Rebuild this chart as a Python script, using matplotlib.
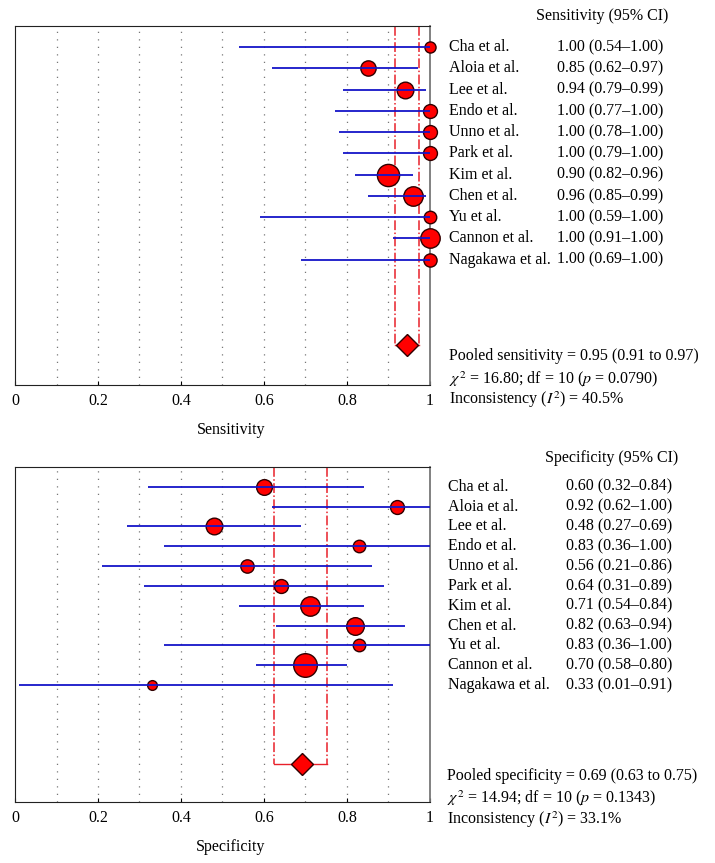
import matplotlib
matplotlib.use("Agg")
import matplotlib.pyplot as plt

plt.rcParams["font.family"] = ["Liberation Serif", "DejaVu Serif"]
plt.rcParams["mathtext.fontset"] = "stix"
plt.rcParams["font.size"] = 11

studies = ["Cha et al.", "Aloia et al.", "Lee et al.", "Endo et al.", "Unno et al.",
           "Park et al.", "Kim et al.", "Chen et al.", "Yu et al.", "Cannon et al.",
           "Nagakawa et al."]

sens = [1.00, 0.85, 0.94, 1.00, 1.00, 1.00, 0.90, 0.96, 1.00, 1.00, 1.00]
sens_lo = [0.54, 0.62, 0.79, 0.77, 0.78, 0.79, 0.82, 0.85, 0.59, 0.91, 0.69]
sens_hi = [1.00, 0.97, 0.99, 1.00, 1.00, 1.00, 0.96, 0.99, 1.00, 1.00, 1.00]
sens_weight = [8, 11, 12, 10, 10, 10, 16, 14, 9, 14, 9.5]
sens_pooled = 0.945
sens_pooled_ci = (0.916, 0.973)
sens_stats = ["Pooled sensitivity = 0.95 (0.91 to 0.97)",
              r"$\chi^2$ = 16.80; df = 10 ($p$ = 0.0790)",
              r"Inconsistency ($I^2$) = 40.5%"]

spec = [0.60, 0.92, 0.48, 0.83, 0.56, 0.64, 0.71, 0.82, 0.83, 0.70, 0.33]
spec_lo = [0.32, 0.62, 0.27, 0.36, 0.21, 0.31, 0.54, 0.63, 0.36, 0.58, 0.01]
spec_hi = [0.84, 1.00, 0.69, 1.00, 0.86, 0.89, 0.84, 0.94, 1.00, 0.80, 0.91]
spec_weight = [11.3, 10, 12, 9, 9.6, 10, 14, 12.7, 9, 17, 7]
spec_pooled = 0.691
spec_pooled_ci = (0.625, 0.751)
spec_stats = ["Pooled specificity = 0.69 (0.63 to 0.75)",
              r"$\chi^2$ = 14.94; df = 10 ($p$ = 0.1343)",
              r"Inconsistency ($I^2$) = 33.1%"]

xticks = [0, 0.2, 0.4, 0.6, 0.8, 1.0]
xticklabels = ["0", "0.2", "0.4", "0.6", "0.8", "1"]


def forest(ax, est, lo, hi, weight, pooled, pooled_ci, header, stats, xlabel,
           name_x, val_x, head_x, stat_x, stat_y):
    rows = list(range(1, len(est) + 1))
    diamond_y = 15

    for g in [0.1, 0.2, 0.3, 0.4, 0.5, 0.6, 0.7, 0.8, 0.9]:
        ax.axvline(g, color="#777777", linestyle=(0, (1, 5)), linewidth=0.9, zorder=1)

    # pooled CI bounds
    for b in pooled_ci:
        ax.plot([b, b], [0, diamond_y], color="#e8202a", linestyle="-.",
                linewidth=1.1, zorder=2)
    ax.plot(list(pooled_ci), [diamond_y, diamond_y], color="#e8202a",
            linewidth=1.0, zorder=2)

    for r, e, w in zip(rows, est, weight):
        ax.plot(e, r, "o", markersize=w, markerfacecolor="#ff0000",
                markeredgecolor="#300000", markeredgewidth=1.0, zorder=3,
                clip_on=False)
    ax.hlines(rows, lo, hi, color="#1515c8", linewidth=1.3, zorder=4, clip_on=False)

    ax.plot(pooled, diamond_y, "D", markersize=11, markerfacecolor="#ff0000",
            markeredgecolor="#300000", markeredgewidth=1.0, zorder=5)

    ax.set_xlim(0, 1)
    ax.set_ylim(16.9, 0)
    ax.set_yticks([])
    ax.set_xticks(xticks)
    ax.set_xticklabels(xticklabels, fontsize=11.5)
    ax.tick_params(axis="x", direction="in", length=3, pad=6)
    for s in ["left", "bottom", "top"]:
        ax.spines[s].set_color("#222222")
    ax.spines["right"].set_color("#777777")
    ax.spines["right"].set_linewidth(1.3)
    ax.set_xlabel(xlabel, fontsize=11.5, labelpad=9, x=0.52)

    ax.text(head_x, -0.45, header, ha="left", va="center", fontsize=11.5, clip_on=False)
    for r, name, e, l, h in zip(rows, studies, est, lo, hi):
        ax.text(name_x, r, name, ha="left", va="center", fontsize=11.5, clip_on=False)
        ax.text(val_x, r, f"{e:.2f} ({l:.2f}\u2013{h:.2f})", ha="left", va="center",
                fontsize=11.5, clip_on=False)
    for y, s in zip(stat_y, stats):
        ax.text(stat_x, y, s, ha="left", va="center", fontsize=11.5, clip_on=False)


fig = plt.figure(figsize=(7.15, 8.63), dpi=100)
ax1 = fig.add_axes([15 / 715, 1 - 385 / 863, 415 / 715, 359 / 863])
ax2 = fig.add_axes([15 / 715, 1 - 802 / 863, 415 / 715, 335 / 863])

forest(ax1, sens, sens_lo, sens_hi, sens_weight, sens_pooled, sens_pooled_ci,
       "Sensitivity (95% CI)", sens_stats, "Sensitivity",
       1.046, 1.305, 1.255, 1.046, [15.55, 16.6, 17.6])
forest(ax2, spec, spec_lo, spec_hi, spec_weight, spec_pooled, spec_pooled_ci,
       "Specificity (95% CI)", spec_stats, "Specificity",
       1.043, 1.327, 1.277, 1.041, [15.6, 16.7, 17.8])

fig.savefig("out.png", dpi=100)
